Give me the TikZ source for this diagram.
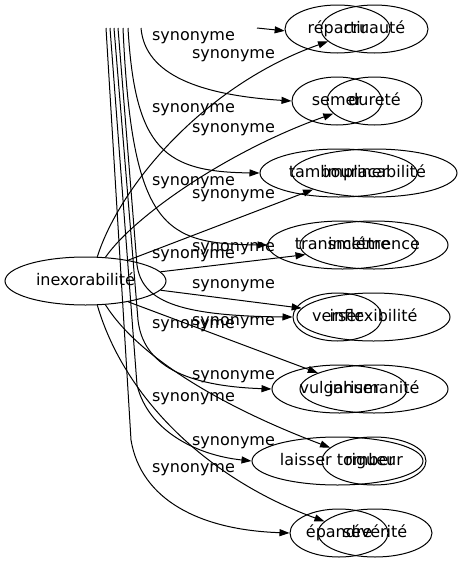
\documentclass[tikz,border=0pt]{standalone}
\usepackage{fontspec}
\setmainfont{DejaVu Sans}
\usetikzlibrary{shapes.geometric,arrows.meta}
\begin{document}
\begin{tikzpicture}[x=1pt,y=-1pt,
  every node/.style={font=\fontsize{16}{19}\selectfont},
  nd/.style={ellipse, draw, line width=1pt, inner sep=0pt, minimum height=48pt, text height=11.5pt, text depth=3.5pt},
  lbl/.style={inner sep=0pt, text height=11.5pt, text depth=3.5pt},
  syn/.style={line width=1pt, -{Triangle[length=10pt,width=7pt]}}]
\useasboundingbox (0,0) rectangle (462,563);
% source node
\node[nd, minimum width=161pt] (inex) at (85.5,281) {inexorabilité};
% row 1
\node[nd, minimum width=105pt] (rep) at (337.5,29) {répartir};
\node[nd, minimum width=107pt] (cru) at (374.5,29) {cruauté};
% row 2
\node[nd, minimum width=90pt] (sem) at (337,101) {semer};
\node[nd, minimum width=95pt] (dur) at (374.5,101) {dureté};
% row 3
\node[nd, minimum width=157pt] (tam) at (338.5,173) {tambouriner};
\node[nd, minimum width=165pt] (imp) at (374.5,173) {implacabilité};
% row 4
\node[nd, minimum width=149pt] (tra) at (342.5,245) {transmettre};
\node[nd, minimum width=148pt] (inc) at (374,245) {inclémence};
% row 5
\node[nd, minimum width=89pt] (ver) at (337.5,317) {verser};
\node[nd, minimum width=153pt] (inf) at (373.5,317) {inflexibilité};
% row 6
\node[nd, minimum width=135pt] (vul) at (339.5,389) {vulgariser};
\node[nd, minimum width=148pt] (inh) at (374,389) {inhumanité};
% row 7
\node[nd, minimum width=171pt] (lai) at (337.5,461) {laisser tomber};
\node[nd, minimum width=104pt] (rig) at (374,461) {rigueur};
% row 8
\node[nd, minimum width=98pt] (epa) at (339,533) {épandre};
\node[nd, minimum width=114pt] (sev) at (375,533) {sévérité};
% edges from inexorabilite
\draw[syn] (inex.64) .. controls (120,185) and (205,85) .. (cru.195);
\draw[syn] (inex.50) .. controls (135,215) and (230,150) .. (dur.197);
\draw[syn] (inex.26) -- (imp.195);
\draw[syn] (inex.7) -- (inc.188);
\draw[syn] (inex.-7) -- (inf.173);
\draw[syn] (inex.-26) -- (inh.164);
\draw[syn] (inex.-50) .. controls (140,360) and (230,410) .. (rig.163);
\draw[syn] (inex.-64) .. controls (125,400) and (210,480) .. (sev.167);
% edges from the source above the picture
\coordinate (s1) at (257,28);
\coordinate (s2) at (141,28);
\coordinate (s3) at (128,28);
\coordinate (s4) at (123,28);
\coordinate (s5) at (118,28);
\coordinate (s6) at (114,28);
\coordinate (s7) at (110,28);
\coordinate (s8) at (106,28);
\draw[syn] (s1) -- (rep.182);
\draw[syn] (s2) .. controls (145,75) and (200,95) .. (sem.west);
\draw[syn] (s3) .. controls (135,150) and (165,172) .. (tam.west);
\draw[syn] (s4) .. controls (132,230) and (165,244) .. (tra.west);
\draw[syn] (s5) -- (137,265) .. controls (142,300) and (175,316) .. (ver.west);
\draw[syn] (s6) -- (138,320) .. controls (143,365) and (185,386) .. (vul.west);
\draw[syn] (s7) -- (137,385) .. controls (148,430) and (195,455) .. (lai.west);
\draw[syn] (s8) -- (131,440) .. controls (141,500) and (200,530) .. (epa.west);
% labels
\node[lbl] (l1) at (193.5,36) {synonyme};
\node[lbl] (l2) at (193.5,108) {synonyme};
\node[lbl] (l3) at (193.5,181) {synonyme};
\node[lbl] (l4) at (193.5,254) {synonyme};
\node[lbl] (l5) at (193.5,324) {synonyme};
\node[lbl] (l6) at (193.5,397) {synonyme};
\node[lbl] (l7) at (193.5,468) {synonyme};
\node[lbl] (r1) at (233.5,54) {synonyme};
\node[lbl] (r2) at (233.5,128) {synonyme};
\node[lbl] (r3) at (233.5,194) {synonyme};
\node[lbl] (r4) at (233.5,247) {synonyme};
\node[lbl] (r5) at (233.5,284) {synonyme};
\node[lbl] (r6) at (233.5,321) {synonyme};
\node[lbl] (r7) at (233.5,375) {synonyme};
\node[lbl] (r8) at (233.5,441) {synonyme};
\end{tikzpicture}
\end{document}
